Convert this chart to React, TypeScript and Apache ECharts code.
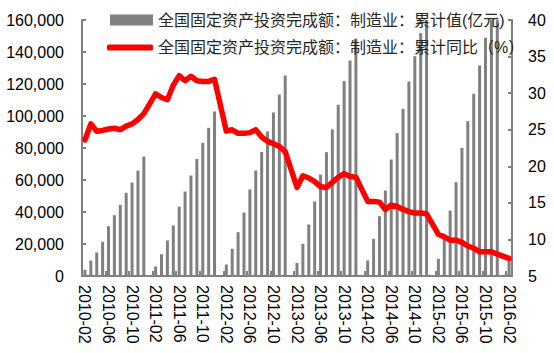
import React, { useEffect, useRef } from 'react';
import * as echarts from 'echarts';

const barName = '全国固定资产投资完成额：制造业：累计值(亿元)';
const lineName = '全国固定资产投资完成额：制造业：累计同比（%）';

const categories = [
  '2010-02', '2010-03', '2010-04', '2010-05', '2010-06', '2010-07', '2010-08', '2010-09', '2010-10', '2010-11', '2010-12',
  '2011-01', '2011-02', '2011-03', '2011-04', '2011-05', '2011-06', '2011-07', '2011-08', '2011-09', '2011-10', '2011-11', '2011-12',
  '2012-01', '2012-02', '2012-03', '2012-04', '2012-05', '2012-06', '2012-07', '2012-08', '2012-09', '2012-10', '2012-11', '2012-12',
  '2013-01', '2013-02', '2013-03', '2013-04', '2013-05', '2013-06', '2013-07', '2013-08', '2013-09', '2013-10', '2013-11', '2013-12',
  '2014-01', '2014-02', '2014-03', '2014-04', '2014-05', '2014-06', '2014-07', '2014-08', '2014-09', '2014-10', '2014-11', '2014-12',
  '2015-01', '2015-02', '2015-03', '2015-04', '2015-05', '2015-06', '2015-07', '2015-08', '2015-09', '2015-10', '2015-11', '2015-12',
  '2016-01', '2016-02',
];

// 累计值(亿元); January has no release (null)
const cumulativeValue = [
  3900, 9700, 14700, 21400, 31100, 38000, 44500, 52000, 58400, 65900, 74700,
  null, 5900, 13600, 22200, 31600, 43400, 52800, 62800, 73200, 83200, 92600, 102800,
  null, 7200, 17000, 27400, 39700, 54100, 65900, 77600, 90300, 102200, 113400, 125300,
  null, 8200, 20100, 32200, 46600, 63400, 77400, 91600, 107000, 121800, 134700, 148300,
  null, 9800, 23200, 37400, 53400, 72800, 89300, 104500, 121600, 137400, 151800, 166900,
  null, 10700, 23000, 40900, 58600, 80100, 96800, 113900, 131600, 148900, 164900, 180400,
  null, 11000,
];

// 累计同比(%)
const cumulativeYoY = [
  23.6, 25.8, 24.8, 24.9, 25.1, 25.2, 25.0, 25.5, 25.8, 26.4, 27.2,
  null, 29.9, 29.4, 29.1, 31.1, 32.4, 31.7, 32.3, 31.7, 31.6, 31.6, 31.9,
  null, 24.8, 25.0, 24.5, 24.5, 24.6, 25.0, 24.0, 23.4, 23.1, 22.7, 22.0,
  null, 17.1, 18.7, 18.4, 17.9, 17.2, 17.1, 17.8, 18.5, 19.0, 18.6, 18.5,
  null, 15.2, 15.2, 15.1, 14.1, 14.7, 14.5, 14.1, 13.8, 13.6, 13.6, 13.5,
  null, 10.7, 10.35, 9.9, 9.9, 9.6, 9.1, 8.8, 8.3, 8.3, 8.3, 8.0,
  null, 7.4,
];

const leftTicks = { min: 0, max: 160000, interval: 20000 };
const rightTicks = { min: 5, max: 40, interval: 5 };

const latin = "'Liberation Sans', Arial, sans-serif";
const cjk = "'Liberation Sans', 'Noto Sans CJK SC', sans-serif";
const axisGrey = '#808080';

export default function App() {
  const ref = useRef<HTMLDivElement>(null);
  useEffect(() => {
    if (!ref.current) return;
    const chart = echarts.init(ref.current, undefined, { renderer: 'svg' });
    chart.setOption({
      animation: false,
      backgroundColor: '#ffffff',
      textStyle: { fontFamily: latin },
      legend: [
        {
          data: [{ name: barName }],
          left: 110,
          top: 12,
          padding: 0,
          icon: 'rect',
          itemWidth: 43,
          itemHeight: 11,
          selectedMode: false,
          textStyle: { fontSize: 16, color: '#262626', fontFamily: cjk },
        },
        {
          data: [{ name: lineName }],
          left: 107,
          top: 39.5,
          padding: 0,
          icon: 'roundRect',
          itemWidth: 46,
          itemHeight: 6,
          selectedMode: false,
          textStyle: { fontSize: 16, color: '#262626', fontFamily: cjk },
        },
      ],
      grid: { left: 82, right: 42, top: 20, bottom: 77, containLabel: false },
      xAxis: {
        type: 'category',
        data: categories,
        boundaryGap: true,
        axisLine: { show: true, lineStyle: { color: axisGrey, width: 2 } },
        axisTick: { show: true, inside: true, length: 5, interval: 3, lineStyle: { color: axisGrey, width: 2 } },
        axisLabel: { interval: 3, rotate: -90, margin: 9, fontSize: 16, color: '#000', fontFamily: latin },
        splitLine: { show: false },
      },
      yAxis: [
        {
          type: 'value',
          position: 'left',
          ...leftTicks,
          axisLine: { show: true, lineStyle: { color: axisGrey, width: 2 } },
          axisTick: { show: true, inside: true, length: 4, lineStyle: { color: axisGrey, width: 2 } },
          axisLabel: {
            margin: 18,
            fontSize: 16,
            color: '#000',
            fontFamily: latin,
            formatter: (v: number) => v.toLocaleString('en-US'),
          },
          splitLine: { show: false },
        },
        {
          type: 'value',
          position: 'right',
          ...rightTicks,
          axisLine: { show: true, lineStyle: { color: axisGrey, width: 2 } },
          axisTick: { show: true, inside: true, length: 4, lineStyle: { color: axisGrey, width: 2 } },
          axisLabel: { margin: 16, fontSize: 16, color: '#000', fontFamily: latin },
          splitLine: { show: false },
        },
      ],
      series: [
        {
          name: barName,
          type: 'bar',
          yAxisIndex: 0,
          data: cumulativeValue,
          barWidth: 3,
          clip: true,
          itemStyle: { color: '#808080' },
        },
        {
          name: lineName,
          type: 'line',
          yAxisIndex: 1,
          data: cumulativeYoY,
          connectNulls: true,
          symbol: 'none',
          z: 3,
          itemStyle: { color: '#ff0000' },
          lineStyle: { color: '#ff0000', width: 5.5, join: 'round', cap: 'round' },
        },
      ],
    });
    return () => chart.dispose();
  }, []);
  return (
    <div
      ref={ref}
      style={{ position: 'fixed', left: 0, top: 0, width: 554, height: 353, background: '#fff' }}
    />
  );
}
